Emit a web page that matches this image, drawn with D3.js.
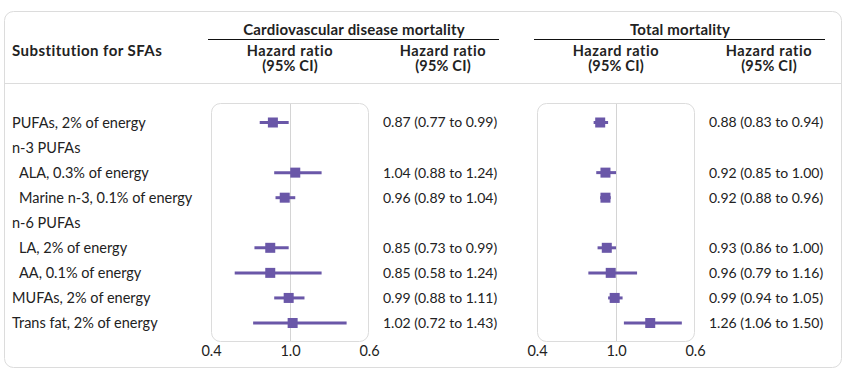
<!DOCTYPE html>
<html>
<head>
<meta charset="utf-8">
<script src="https://cdn.jsdelivr.net/npm/d3@7"></script>
<style>
  body { margin: 0; background: #fff; }
  svg { font-family: Lato, "Open Sans", sans-serif; }
</style>
</head>
<body>
<svg id="chart" width="852" height="376"></svg>
<script>
// row labels (indent = sub-item)
const labels = ['PUFAs, 2% of energy', 'n-3 PUFAs', 'ALA, 0.3% of energy', 'Marine n-3, 0.1% of energy',
  'n-6 PUFAs', 'LA, 2% of energy', 'AA, 0.1% of energy', 'MUFAs, 2% of energy', 'Trans fat, 2% of energy'];
const indent = [0, 0, 1, 1, 0, 1, 1, 0, 0];

// cardiovascular disease mortality: hr, lo, hi (null = heading row)
const cvdHr = [0.87, null, 1.04, 0.96, null, 0.85, 0.85, 0.99, 1.02];
const cvdLo = [0.77, null, 0.88, 0.89, null, 0.73, 0.58, 0.88, 0.72];
const cvdHi = [0.99, null, 1.24, 1.04, null, 0.99, 1.24, 1.11, 1.43];

// total mortality
const totHr = [0.88, null, 0.92, 0.92, null, 0.93, 0.96, 0.99, 1.26];
const totLo = [0.83, null, 0.85, 0.88, null, 0.86, 0.79, 0.94, 1.06];
const totHi = [0.94, null, 1.00, 0.96, null, 1.00, 1.16, 1.05, 1.50];

const tickVals = [0.4, 1.0, 1.6];
const tickLabels = ['0.4', '1.0', '0.6'];

const purple = '#6a57a8';
const textColor = '#222';
const borderColor = '#dcdcdc';

const svg = d3.select('#chart');

// outer frame
svg.append('rect')
  .attr('x', 4.5).attr('y', 11.5).attr('width', 837).attr('height', 356)
  .attr('rx', 9).attr('fill', '#fff').attr('stroke', borderColor).attr('stroke-width', 1);

svg.append('line')
  .attr('x1', 4.5).attr('x2', 841.5).attr('y1', 83.5).attr('y2', 83.5)
  .attr('stroke', borderColor);

// header
svg.append('text').attr('x', 12).attr('y', 56)
  .attr('font-size', 15).attr('font-weight', 'bold').attr('letter-spacing', 0.45)
  .attr('fill', textColor)
  .text('Substitution for SFAs');

const groups = [
  { title: 'Cardiovascular disease mortality', x0: 208, x1: 499, cols: [290, 443] },
  { title: 'Total mortality', x0: 534, x1: 825, cols: [616, 769] }
];

groups.forEach(gr => {
  svg.append('text').attr('x', (gr.x0 + gr.x1) / 2 + 0.5).attr('y', 34.5)
    .attr('text-anchor', 'middle').attr('font-size', 15).attr('font-weight', 'bold')
    .attr('letter-spacing', 0.2)
    .attr('fill', textColor).text(gr.title);
  svg.append('line').attr('x1', gr.x0).attr('x2', gr.x1).attr('y1', 39.5).attr('y2', 39.5)
    .attr('stroke', '#111').attr('stroke-width', 1);
  gr.cols.forEach(cx => {
    svg.append('text').attr('x', cx).attr('y', 55.5).attr('text-anchor', 'middle')
      .attr('font-size', 14.5).attr('font-weight', 'bold').attr('letter-spacing', 0.6)
      .attr('fill', textColor).text('Hazard ratio');
    svg.append('text').attr('x', cx).attr('y', 71).attr('text-anchor', 'middle')
      .attr('font-size', 14.5).attr('font-weight', 'bold').attr('letter-spacing', 0.2)
      .attr('fill', textColor).text('(95% CI)');
  });
});

// rows
const y = d3.scalePoint().domain(d3.range(labels.length)).range([122.5, 323]);

svg.append('g').selectAll('text').data(labels).enter().append('text')
  .attr('x', (d, i) => indent[i] ? 19 : 12)
  .attr('y', (d, i) => y(i))
  .attr('dy', '0.35em')
  .attr('font-size', 14.5).attr('fill', textColor)
  .text(d => d);

const fmt = d3.format('.2f');

function drawPanel(left, hr, lo, hi, textX) {
  const x = d3.scaleLinear().domain([0.4, 1.6]).range([left, left + 158]);
  const g = svg.append('g');

  g.append('rect')
    .attr('x', left + 0.5).attr('y', 103.5).attr('width', 157).attr('height', 238)
    .attr('rx', 9).attr('fill', 'none').attr('stroke', borderColor);

  g.append('line')
    .attr('x1', Math.round(x(1)) + 0.5).attr('x2', Math.round(x(1)) + 0.5)
    .attr('y1', 104).attr('y2', 341)
    .attr('stroke', '#d4d4d4');

  const axis = d3.axisBottom(x).tickValues(tickVals).tickSize(0).tickPadding(0)
    .tickFormat((d, i) => tickLabels[i]);
  g.append('g').attr('transform', 'translate(0,346)')
    .call(axis)
    .call(a => a.select('.domain').remove())
    .call(a => a.selectAll('text').attr('font-size', 14.5).attr('fill', textColor)
      .attr('font-family', 'Lato, sans-serif'));

  const idx = d3.range(hr.length).filter(i => hr[i] != null);

  g.selectAll('.ci').data(idx).enter().append('line')
    .attr('x1', i => x(lo[i])).attr('x2', i => x(hi[i]))
    .attr('y1', i => y(i)).attr('y2', i => y(i))
    .attr('stroke', purple).attr('stroke-width', 3);

  g.selectAll('.pt').data(idx).enter().append('rect')
    .attr('x', i => x(hr[i]) - 5).attr('y', i => y(i) - 5)
    .attr('width', 10).attr('height', 10)
    .attr('fill', purple);

  g.selectAll('.val').data(idx).enter().append('text')
    .attr('x', textX).attr('y', i => y(i)).attr('dy', '0.35em')
    .attr('font-size', 14).attr('fill', textColor)
    .text(i => `${fmt(hr[i])} (${fmt(lo[i])} to ${fmt(hi[i])})`);
}

drawPanel(211, cvdHr, cvdLo, cvdHi, 383);
drawPanel(537, totHr, totLo, totHi, 709);
</script>
</body>
</html>
